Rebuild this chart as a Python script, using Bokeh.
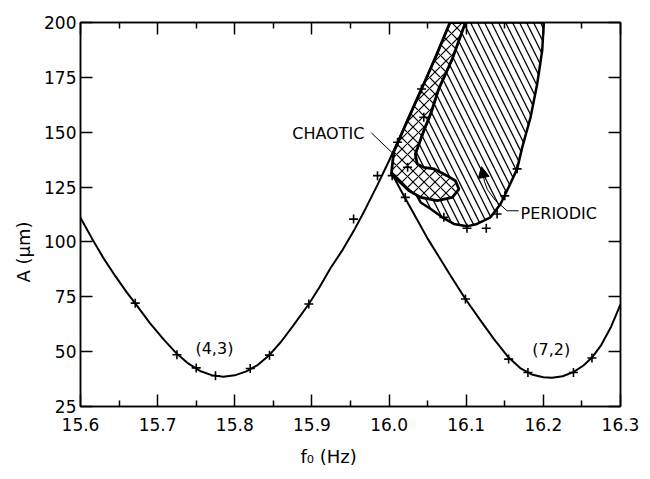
from bokeh.plotting import figure
from bokeh.models import (Range1d, LinearAxis, FixedTicker, Title, Label, Arrow, NormalHead,
                          CustomJSTickFormatter)
from bokeh.embed import file_html
from bokeh.resources import INLINE

# ---------------- data ----------------
x_ticks = [15.6, 15.7, 15.8, 15.9, 16.0, 16.1, 16.2, 16.3]
x_tick_labels = ["15.6", "15.7", "15.8", "15.9", "16.0", "16.1", "16.2", "16.3"]
x_minor_ticks = [15.65, 15.75, 15.85, 15.95, 16.05, 16.15, 16.25]
y_ticks = [25, 50, 75, 100, 125, 150, 175, 200]

# (4,3) resonance curve
curve43_f = [15.600, 15.615, 15.630, 15.645, 15.660, 15.671, 15.690, 15.708, 15.725, 15.740,
             15.755, 15.770, 15.785, 15.800, 15.815, 15.830, 15.845, 15.860, 15.875, 15.896,
             15.910, 15.924, 15.940, 15.955, 15.970, 15.985, 16.000, 16.015, 16.030, 16.045,
             16.060, 16.079]
curve43_a = [111.0, 101.5, 92.5, 84.5, 77.0, 72.0, 63.0, 55.5, 49.0, 44.5,
             41.2, 39.3, 38.6, 39.2, 41.0, 44.0, 48.5, 54.5, 61.5, 71.7,
             79.5, 88.0, 96.5, 105.5, 115.5, 126.0, 137.0, 148.5, 160.0, 172.0,
             184.0, 200.0]

# (7,2) resonance curve
curve72_f = [16.003, 16.020, 16.035, 16.050, 16.065, 16.080, 16.099, 16.118, 16.136, 16.155,
             16.170, 16.185, 16.200, 16.2115, 16.225, 16.2395, 16.252, 16.263, 16.275, 16.288,
             16.300]
curve72_a = [131.5, 120.5, 111.0, 101.5, 93.0, 84.5, 74.0, 64.5, 55.7, 47.3,
             42.5, 39.6, 38.3, 38.1, 38.8, 40.8, 43.7, 47.3, 53.0, 61.5,
             71.5]

# measured points (+)
points_f = [15.671, 15.725, 15.750, 15.775, 15.820, 15.845, 15.896,
            16.099, 16.155, 16.180, 16.239, 16.263,
            15.954, 15.985, 16.004, 16.011, 16.042, 16.045, 16.021, 16.024,
            16.071, 16.101, 16.126, 16.140, 16.150, 16.166]
points_a = [72.1, 48.6, 42.6, 39.0, 42.3, 48.4, 71.7,
            74.0, 46.6, 40.5, 40.5, 47.1,
            110.4, 130.2, 130.2, 145.4, 169.7, 156.8, 120.3, 134.0,
            111.2, 106.2, 106.2, 112.7, 121.0, 133.3]

# periodic region boundary
periodic_f = [16.097, 16.2006, 16.1985, 16.192, 16.1834, 16.1726, 16.166, 16.155, 16.1445,
              16.1315, 16.114, 16.101, 16.084, 16.069, 16.054, 16.041, 16.030, 16.034,
              16.045, 16.054, 16.0645, 16.082]
periodic_a = [200.0, 200.0, 187.2, 172.0, 156.8, 143.1, 133.3, 124.9, 117.3,
              111.2, 108.2, 107.1, 108.2, 111.2, 115.0, 118.0, 125.0, 140.1,
              150.7, 158.5, 169.9, 183.5]

# chaotic region boundary
chaotic_f = [16.079, 16.099, 16.082, 16.0645, 16.054, 16.045, 16.034, 16.0365, 16.045,
             16.058, 16.075, 16.086, 16.0905, 16.082, 16.0624, 16.041, 16.0256, 16.003,
             16.006, 16.024, 16.045, 16.060]
chaotic_a = [200.0, 200.0, 183.5, 169.9, 158.5, 150.7, 140.1, 135.5, 134.0,
             133.3, 130.2, 127.9, 124.1, 120.3, 118.8, 120.3, 123.4, 131.0,
             141.0, 155.5, 172.0, 184.0]

# annotations
chaotic_label = ("CHAOTIC", 15.8745, 149.6)
chaotic_leader_f = [15.977, 16.0083]
chaotic_leader_a = [149.7, 139.2]
periodic_label = ("PERIODIC", 16.1704, 113.1)
periodic_leader_f = [16.168, 16.1531, 16.138, 16.1276, 16.1237]
periodic_leader_a = [114.2, 114.2, 118.8, 123.8, 127.5]
periodic_arrow = (16.1237, 127.5, 16.1198, 134.3)
mode_labels = [("(4,3)", 15.749, 51.5), ("(7,2)", 16.1856, 50.9)]
x_label = "f\u2080 (Hz)"
y_label = "A (\u03bcm)"

FONT = "DejaVu Sans"

# ---------------- figure ----------------
p = figure(width=650, height=479,
           x_range=Range1d(15.6, 16.3), y_range=Range1d(25, 200),
           output_backend="svg", toolbar_location=None,
           min_border_left=80, min_border_right=30, min_border_top=22, min_border_bottom=73)
p.xgrid.visible = False
p.ygrid.visible = False
p.outline_line_color = "black"
p.outline_line_width = 1.5
p.background_fill_color = "white"
p.border_fill_color = "white"

fmt = CustomJSTickFormatter(args=dict(tvals=x_ticks, tlabels=x_tick_labels), code="""
const i = tvals.findIndex(t => Math.abs(t - tick) < 1e-9);
return i >= 0 ? tlabels[i] : '';
""")


def style_axis(ax, minor=True, labels=True):
    ax.axis_line_color = "black"
    ax.axis_line_width = 1.5
    ax.major_tick_line_color = "black"
    ax.major_tick_line_width = 1.5
    ax.major_tick_in = 12
    ax.major_tick_out = 0
    if minor:
        ax.minor_tick_line_color = "black"
        ax.minor_tick_line_width = 1.5
        ax.minor_tick_in = 6
        ax.minor_tick_out = 0
    else:
        ax.minor_tick_line_color = None
    if labels:
        ax.major_label_text_font = FONT
        ax.major_label_text_font_size = "17px"
        ax.major_label_text_color = "black"
    else:
        ax.major_label_text_font_size = "1px"
        ax.major_label_text_color = None
        ax.major_label_standoff = 0


xt = FixedTicker(ticks=x_ticks, minor_ticks=x_minor_ticks)
yt = FixedTicker(ticks=y_ticks, minor_ticks=[])

p.xaxis.ticker = xt
p.xaxis.formatter = fmt
style_axis(p.xaxis[0], minor=True)
p.xaxis.major_label_standoff = 11
p.yaxis.ticker = yt
style_axis(p.yaxis[0], minor=False)
p.yaxis.major_label_standoff = 4

top = LinearAxis(ticker=xt)
style_axis(top, minor=True, labels=False)
p.add_layout(top, "above")
right = LinearAxis(ticker=yt)
style_axis(right, minor=False, labels=False)
p.add_layout(right, "right")

# axis titles
p.add_layout(Title(text=x_label, align="left", offset=220, vertical_align="bottom", standoff=20,
                   text_font=FONT, text_font_size="18px", text_font_style="normal",
                   text_color="black"), "below")
p.add_layout(Title(text=y_label, align="left", offset=124, standoff=16,
                   text_font=FONT, text_font_size="18px", text_font_style="normal",
                   text_color="black"), "left")

# regions
p.patch(periodic_f, periodic_a, fill_color="white", fill_alpha=1.0,
        hatch_pattern="\\", hatch_scale=14, hatch_weight=1.3, hatch_color="black",
        line_color="black", line_width=2.5)
p.patch(chaotic_f, chaotic_a, fill_color="white", fill_alpha=1.0,
        hatch_pattern="x", hatch_scale=11, hatch_weight=1.2, hatch_color="black",
        line_color="black", line_width=2.8)

# curves
p.line(curve43_f, curve43_a, line_color="black", line_width=2)
p.line(curve72_f, curve72_a, line_color="black", line_width=2)

# measured points
p.scatter(points_f, points_a, marker="cross", size=9, line_width=1.6, line_color="black")

# leaders
p.line(chaotic_leader_f, chaotic_leader_a, line_color="black", line_width=1)
p.line(periodic_leader_f, periodic_leader_a, line_color="black", line_width=1)
p.add_layout(Arrow(end=NormalHead(size=11, fill_color="black", line_color="black", line_width=1),
                   x_start=periodic_arrow[0], y_start=periodic_arrow[1],
                   x_end=periodic_arrow[2], y_end=periodic_arrow[3],
                   line_color="black", line_width=1))

# text labels
for txt, lx, ly in [chaotic_label, periodic_label] + mode_labels:
    p.add_layout(Label(x=lx, y=ly, text=txt, text_font=FONT, text_font_size="16px",
                       text_baseline="middle", text_align="left", text_color="black"))

open("out.html", "w").write(file_html(p, INLINE))
